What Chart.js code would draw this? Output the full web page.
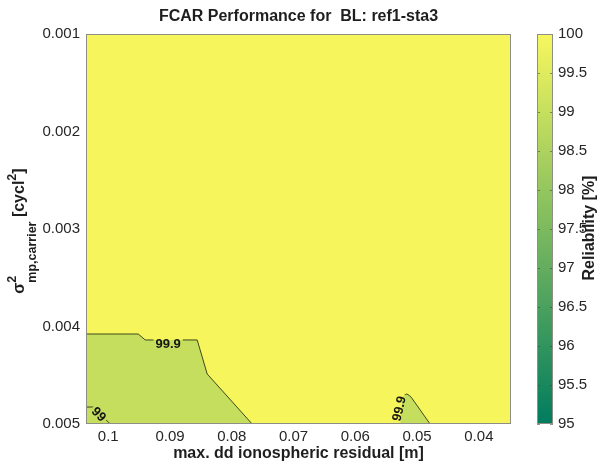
<!DOCTYPE html>
<html><head><meta charset="utf-8">
<script src="https://cdn.jsdelivr.net/npm/chart.js@4.4.1/dist/chart.umd.min.js"></script>
<style>html,body{margin:0;padding:0;background:#fff}#c{display:block}</style>
</head><body>
<canvas id="c" width="597" height="464"></canvas>
<script>
// ---- axes ----
const xTicks = [0.1, 0.09, 0.08, 0.07, 0.06, 0.05, 0.04];
const xTickLabels = ['0.1', '0.09', '0.08', '0.07', '0.06', '0.05', '0.04'];
const xRange = [0.0348, 0.1036];
const yTicks = [0.001, 0.002, 0.003, 0.004, 0.005];
const yTickLabels = ['0.001', '0.002', '0.003', '0.004', '0.005'];
const yRange = [0.001, 0.005];
const cbTicks = [95, 95.5, 96, 96.5, 97, 97.5, 98, 98.5, 99, 99.5, 100];
const cbTickLabels = ['95', '95.5', '96', '96.5', '97', '97.5', '98', '98.5', '99', '99.5', '100'];
const cbRange = [95, 100];

// ---- contours (x = max dd iono residual [m], y = sigma^2 [cycl^2]) ----
const c999X = [0.1036, 0.09515, 0.09401, 0.08560, 0.08398, 0.07670];
const c999Y = [0.004077, 0.004077, 0.004138, 0.004138, 0.004487, 0.005];
const c99X = [0.1036, 0.10243, 0.09968];
const c99Y = [0.004826, 0.004826, 0.005];
const bumpX = [0.05275, 0.05240, 0.05220, 0.05167, 0.05120, 0.05087, 0.04790];
const bumpY = [0.005, 0.00475, 0.00471, 0.004692, 0.00471, 0.004733, 0.005];

// region fill colours: above 99.9 / between 99 and 99.9
const regionColors = ['rgb(246,246,92)', 'rgb(198,222,94)'];

// ---- contour labels ----
const labelText = ['99.9', '99', '99.9'];
const labelX = [0.0903, 0.10146, 0.05299];
const labelY = [0.004169, 0.004897, 0.004841];
const labelAngle = [0, 45, -77];

function summer(v) {
  const t = Math.max(0, Math.min(1, (v - cbRange[0]) / (cbRange[1] - cbRange[0])));
  const r = Math.round(255 * t * 0.97);
  const g = Math.round(255 * (0.5 + 0.5 * t) * 0.97);
  const b = Math.round(255 * 0.37);
  return `rgb(${r},${g},${b})`;
}
const pts = (xs, ys) => xs.map((x, i) => ({x: x, y: ys[i]}));

const FONT = '"Liberation Sans", Arial, sans-serif';

const bgData = [
  {x: xRange[0], y: yRange[0]}, {x: xRange[1], y: yRange[0]},
  {x: xRange[1], y: yRange[1]}, {x: xRange[0], y: yRange[1]}
];
const greenData = pts(c999X, c999Y).concat([{x: xRange[1], y: yRange[1]}]);
const bumpData = pts(bumpX, bumpY);

const lineStyle = {
  showLine: true, pointRadius: 0, borderWidth: 1, fill: false, tension: 0,
  borderColor: 'rgba(45,55,15,0.9)', contour: true, order: 1
};

function labelBoxes(chart) {
  const ctx = chart.ctx;
  ctx.save();
  ctx.font = 'bold 13px ' + FONT;
  const boxes = labelText.map((t, i) => {
    const w = ctx.measureText(t).width + 4;
    return {
      cx: chart.scales.x.getPixelForValue(labelX[i]),
      cy: chart.scales.y.getPixelForValue(labelY[i]),
      w: w, h: 12, a: labelAngle[i] * Math.PI / 180, t: t
    };
  });
  ctx.restore();
  return boxes;
}

const customPlugin = {
  id: 'custom',
  beforeDatasetDraw(chart, args) {
    const ds = chart.data.datasets[args.index];
    if (!ds.contour) return;
    const ctx = chart.ctx;
    ctx.save();
    ctx.beginPath();
    ctx.rect(0, 0, chart.width, chart.height);
    labelBoxes(chart).forEach(b => {
      const c = Math.cos(b.a), s = Math.sin(b.a);
      const corners = [[-b.w/2, -b.h/2], [b.w/2, -b.h/2], [b.w/2, b.h/2], [-b.w/2, b.h/2]]
        .map(([u, v]) => [b.cx + u * c - v * s, b.cy + u * s + v * c]);
      ctx.moveTo(corners[0][0], corners[0][1]);
      for (let k = 1; k < 4; k++) ctx.lineTo(corners[k][0], corners[k][1]);
      ctx.closePath();
    });
    ctx.clip('evenodd');
  },
  afterDatasetDraw(chart, args) {
    const ds = chart.data.datasets[args.index];
    if (!ds.contour) return;
    chart.ctx.restore();
  },
  afterDraw(chart) {
    const ctx = chart.ctx;
    const ca = chart.chartArea;
    // contour labels
    ctx.save();
    ctx.font = 'bold 13px ' + FONT;
    ctx.fillStyle = '#151515';
    ctx.textAlign = 'center';
    ctx.textBaseline = 'middle';
    labelBoxes(chart).forEach(b => {
      ctx.save();
      ctx.translate(b.cx, b.cy);
      ctx.rotate(b.a);
      ctx.fillText(b.t, 0, 1);
      ctx.restore();
    });
    ctx.restore();

    // frame
    ctx.save();
    ctx.strokeStyle = '#8e8e86';
    ctx.lineWidth = 1;
    ctx.strokeRect(ca.left + 0.5, ca.top + 0.5, ca.right - ca.left - 1, ca.bottom - ca.top - 1);
    ctx.restore();

    // colorbar
    const cb = chart.scales.cb;
    const x0 = cb.left + 26, bw = 16;
    const yTop = cb.getPixelForValue(cbRange[1]);
    const yBot = cb.getPixelForValue(cbRange[0]);
    ctx.save();
    const grad = ctx.createLinearGradient(0, yBot, 0, yTop);
    for (let k = 0; k <= 10; k++) {
      const v = cbRange[0] + (cbRange[1] - cbRange[0]) * k / 10;
      grad.addColorStop(k / 10, summer(v));
    }
    ctx.fillStyle = grad;
    ctx.fillRect(x0, yTop, bw, yBot - yTop);
    ctx.strokeStyle = 'rgba(50,70,40,0.55)';
    ctx.lineWidth = 1;
    cbTicks.forEach(v => {
      const y = Math.round(cb.getPixelForValue(v)) + 0.5;
      ctx.beginPath();
      ctx.moveTo(x0, y); ctx.lineTo(x0 + 3, y);
      ctx.moveTo(x0 + bw - 3, y); ctx.lineTo(x0 + bw, y);
      ctx.stroke();
    });
    ctx.strokeStyle = '#8e8e86';
    ctx.strokeRect(x0 + 0.5, yTop + 0.5, bw - 1, yBot - yTop - 1);
    ctx.restore();

    // titles
    ctx.save();
    ctx.fillStyle = '#1e1e1e';
    ctx.textAlign = 'center';
    ctx.textBaseline = 'middle';
    ctx.font = 'bold 16px ' + FONT;
    const cx = (ca.left + ca.right) / 2;
    ctx.fillText('FCAR Performance for  BL: ref1-sta3', cx, 17);
    ctx.fillText('max. dd ionospheric residual [m]', cx, 454);
    // colorbar label
    ctx.save();
    ctx.translate(594, (ca.top + ca.bottom) / 2 - 1);
    ctx.rotate(-Math.PI / 2);
    ctx.textBaseline = 'alphabetic';
    ctx.fillText('Reliability [%]', 0, 0);
    ctx.restore();
    // y label with sub/superscripts
    const parts = [
      {t: 'σ', f: 'bold 16px ', dy: 0, adv: true},
      {t: '2', f: 'bold 12.5px ', dy: -8, adv: false},
      {t: 'mp,carrier', f: 'bold 12.5px ', dy: 12, adv: true},
      {t: ' [cycl', f: 'bold 16px ', dy: 0, adv: true},
      {t: '2', f: 'bold 12.5px ', dy: -8, adv: true},
      {t: ']', f: 'bold 16px ', dy: 0, adv: true}
    ];
    let total = 0;
    parts.forEach(p => { ctx.font = p.f + FONT; p.w = ctx.measureText(p.t).width; if (p.adv) total += p.w; });
    ctx.translate(24, (ca.top + ca.bottom) / 2 + 2);
    ctx.rotate(-Math.PI / 2);
    ctx.textAlign = 'left';
    ctx.textBaseline = 'alphabetic';
    let xx = -total / 2;
    parts.forEach(p => {
      ctx.font = p.f + FONT;
      ctx.fillText(p.t, xx, p.dy);
      if (p.adv) xx += p.w;
    });
    ctx.restore();
  }
};

const tickFont = {family: FONT, size: 15};
const tickColor = '#262626';

new Chart(document.getElementById('c'), {
  type: 'scatter',
  data: {
    datasets: [
      {data: bgData, showLine: true, pointRadius: 0, borderWidth: 0, fill: 'shape',
       backgroundColor: regionColors[0], order: 10},
      {data: greenData, showLine: true, pointRadius: 0, borderWidth: 0, fill: 'shape',
       backgroundColor: regionColors[1], order: 5},
      {data: bumpData, showLine: true, pointRadius: 0, borderWidth: 0, fill: 'shape',
       backgroundColor: regionColors[1], order: 5},
      Object.assign({data: pts(c999X, c999Y)}, lineStyle),
      Object.assign({data: pts(c99X, c99Y)}, lineStyle),
      Object.assign({data: bumpData.slice(1)}, lineStyle)
    ]
  },
  options: {
    responsive: false,
    animation: false,
    devicePixelRatio: 1,
    layout: {padding: {top: 34, left: 0, right: 0, bottom: 0}},
    plugins: {legend: {display: false}, tooltip: {enabled: false}},
    scales: {
      x: {
        type: 'linear', position: 'bottom', reverse: true,
        min: xRange[0], max: xRange[1],
        grid: {display: false, drawTicks: false},
        border: {display: false},
        afterBuildTicks: s => { s.ticks = xTicks.map(v => ({value: v})); },
        afterFit: s => { s.height = 40; },
        ticks: {
          autoSkip: false, maxRotation: 0, padding: 4, font: tickFont, color: tickColor,
          callback: v => xTickLabels[xTicks.findIndex(t => Math.abs(t - v) < 1e-9)]
        }
      },
      y: {
        type: 'linear', position: 'left', reverse: true,
        min: yRange[0], max: yRange[1],
        grid: {display: false, drawTicks: false},
        border: {display: false},
        afterBuildTicks: s => { s.ticks = yTicks.map(v => ({value: v})); },
        afterFit: s => { s.width = 86; },
        ticks: {
          autoSkip: false, padding: 6, font: tickFont, color: tickColor,
          callback: v => yTickLabels[yTicks.findIndex(t => Math.abs(t - v) < 1e-12)]
        }
      },
      cb: {
        type: 'linear', position: 'right', axis: 'y',
        min: cbRange[0], max: cbRange[1],
        grid: {display: true, drawOnChartArea: false, drawTicks: true, tickLength: 42,
               color: 'rgba(0,0,0,0)'},
        border: {display: false},
        afterBuildTicks: s => { s.ticks = cbTicks.map(v => ({value: v})); },
        afterFit: s => { s.width = 86; },
        ticks: {
          autoSkip: false, padding: 5, font: tickFont, color: tickColor,
          callback: v => cbTickLabels[cbTicks.findIndex(t => Math.abs(t - v) < 1e-9)]
        }
      }
    }
  },
  plugins: [customPlugin]
});
</script>
</body></html>
